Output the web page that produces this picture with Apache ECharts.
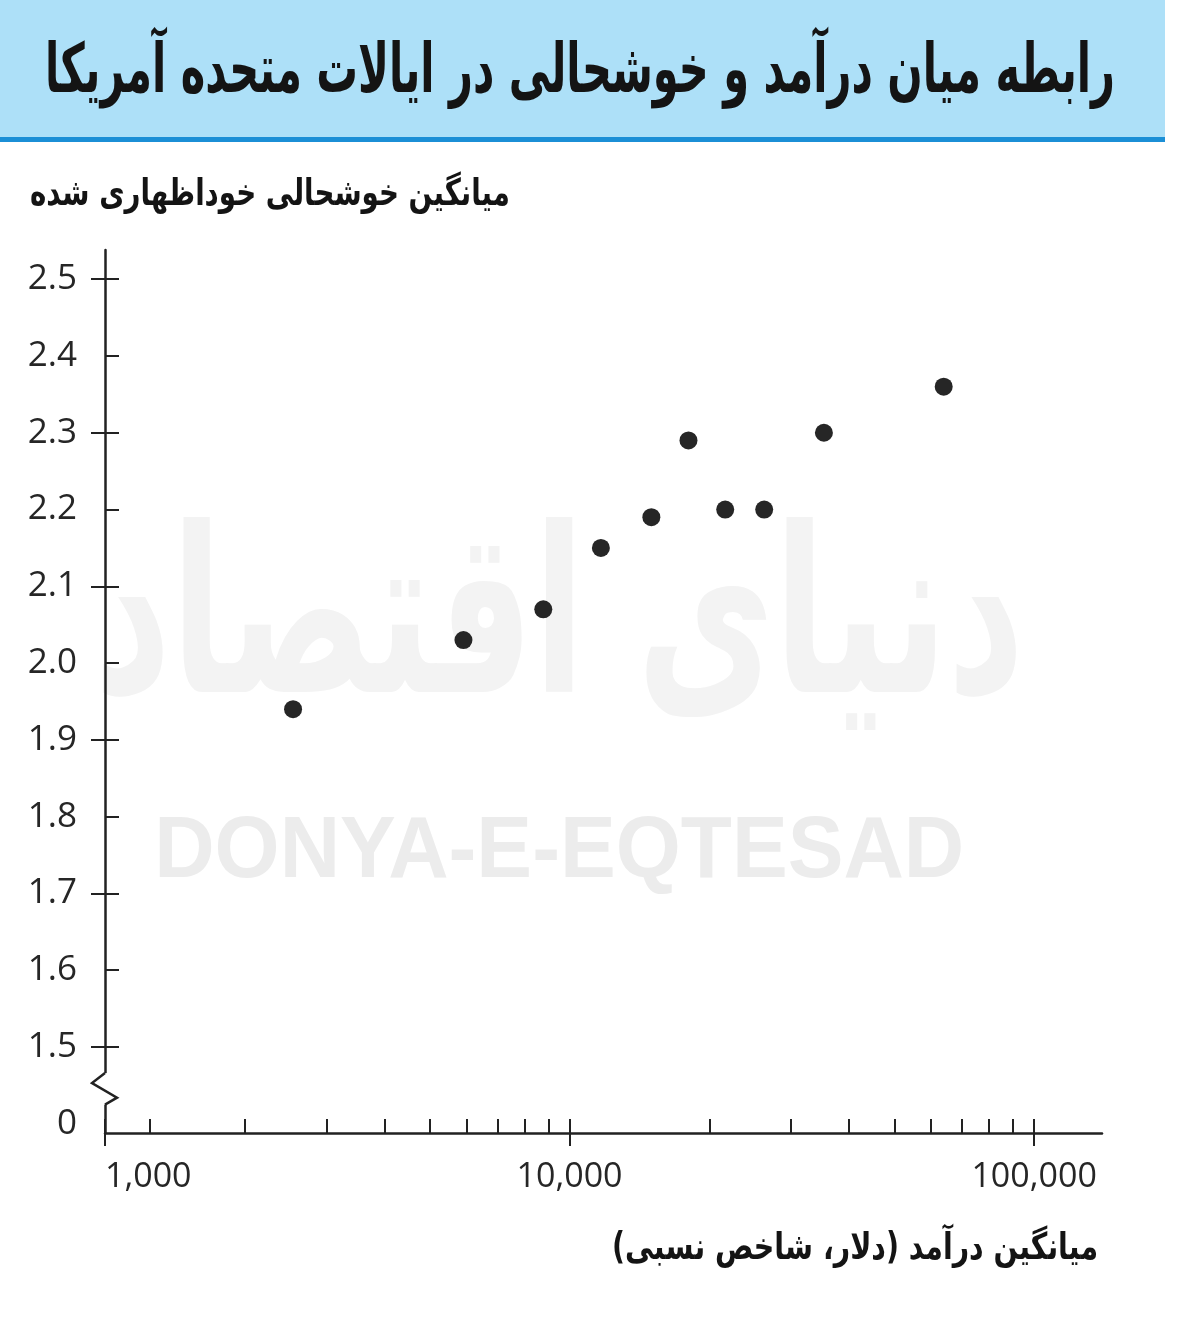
<!DOCTYPE html>
<html><head><meta charset="utf-8">
<script src="https://cdn.jsdelivr.net/npm/echarts@6/dist/echarts.min.js"></script>
<style>html,body{margin:0;padding:0;background:#fff}#c{width:1200px;height:1317px}</style>
</head><body><div id="c"></div>
<script>
// ---- text ----
const chartTitle = 'رابطه میان درآمد و خوشحالی در ایالات متحده آمریکا';
const yAxisTitle = 'میانگین خوشحالی خوداظهاری شده';
const xAxisTitle = 'میانگین درآمد (دلار، شاخص نسبی)';
const watermarkLatin = 'DONYA-E-EQTESAD';
const watermarkPersian = 'دنیای اقتصاد';

// ---- data ----
const income = [2540, 5910, 8780, 11680, 15000, 18030, 21630, 26240, 35280, 63880];
const happiness = [1.94, 2.03, 2.07, 2.15, 2.19, 2.29, 2.20, 2.20, 2.30, 2.36];

// ---- ticks ----
const xMajorTicks = [1000, 10000, 100000];
const xMajorLabels = ['1,000', '10,000', '100,000'];
const xMinorTicks = [1250, 2000, 3000, 4000, 5000, 6000, 7000, 8000, 9000,
  20000, 30000, 40000, 50000, 60000, 70000, 80000, 90000];
const yTicks = [1.5, 1.6, 1.7, 1.8, 1.9, 2.0, 2.1, 2.2, 2.3, 2.4, 2.5];
const yTickLabels = ['1.5', '1.6', '1.7', '1.8', '1.9', '2.0', '2.1', '2.2', '2.3', '2.4', '2.5'];
const yCrossTicks = [1.5, 1.7, 1.9, 2.1, 2.3, 2.5];
const yBreakValue = 1.4;      // position where the truncated axis shows "0"
const yBreakLabel = '0';

const rtl = s => '\u202B' + s + '\u202C';
const INK = '#222222';
const LABEL = '#262626';
const NUMFONT = '"Open Sans", "DejaVu Sans", sans-serif';
const FAFONT = '"DejaVu Sans", sans-serif';

const mctx = document.createElement('canvas').getContext('2d');
function fitScale(text, font, target) {
  mctx.font = font;
  return target / mctx.measureText(text).width;
}

const chart = echarts.init(document.getElementById('c'), null, {renderer: 'canvas'});

const yLabelValues = [yBreakValue].concat(yTicks);
function yLabelFor(v) {
  if (Math.abs(v - yBreakValue) < 1e-6) return yBreakLabel;
  for (let i = 0; i < yTicks.length; i++) if (Math.abs(v - yTicks[i]) < 1e-6) return yTickLabels[i];
  return '';
}
function xLabelFor(v) {
  for (let i = 0; i < xMajorTicks.length; i++) if (Math.abs(v - xMajorTicks[i]) < 1e-3) return xMajorLabels[i];
  return '';
}

const yMin = 1.388, yMax = 2.538;
const xMin = 1000, xMax = 140000;

const option = {
  backgroundColor: '#ffffff',
  animation: false,
  grid: {left: 105, right: 98, top: 250, bottom: 184, containLabel: false},
  xAxis: [
    {type: 'log', logBase: 10, min: xMin, max: xMax, position: 'bottom',
     axisLine: {show: true, lineStyle: {color: INK, width: 2.5}},
     axisTick: {show: true, inside: true, length: 14, customValues: xMajorTicks.concat(xMinorTicks),
                lineStyle: {color: INK, width: 2}},
     minorTick: {show: false},
     splitLine: {show: false},
     axisLabel: {show: true, customValues: xMajorTicks, formatter: v => xLabelFor(v),
                 fontFamily: NUMFONT, fontSize: 34, color: LABEL, margin: 27, alignMinLabel: 'left'}},
    {type: 'log', logBase: 10, min: xMin, max: xMax, position: 'bottom',
     axisLine: {show: false},
     axisTick: {show: true, inside: false, length: 13, customValues: xMajorTicks,
                lineStyle: {color: INK, width: 2}},
     splitLine: {show: false},
     axisLabel: {show: false}}
  ],
  yAxis: [
    {type: 'value', min: yMin, max: yMax, position: 'left',
     axisLine: {show: true, lineStyle: {color: INK, width: 2.5}},
     axisTick: {show: true, inside: false, length: 14, customValues: yCrossTicks,
                lineStyle: {color: INK, width: 2}},
     splitLine: {show: false},
     axisLabel: {show: true, customValues: yLabelValues, formatter: v => yLabelFor(v),
                 fontFamily: NUMFONT, fontSize: 35, color: LABEL, margin: 28}},
    {type: 'value', min: yMin, max: yMax, position: 'left',
     axisLine: {show: false},
     axisTick: {show: true, inside: true, length: 14, customValues: yTicks,
                lineStyle: {color: INK, width: 2}},
     splitLine: {show: false},
     axisLabel: {show: false}}
  ],
  series: [{
    type: 'scatter', xAxisIndex: 0, yAxisIndex: 0,
    data: income.map((v, i) => [v, happiness[i]]),
    symbol: 'circle', symbolSize: 18,
    itemStyle: {color: '#262626', opacity: 1}, z: 5
  }]
};
chart.setOption(option);

// decorations positioned from the axes
const x0 = chart.convertToPixel({xAxisIndex: 0}, xMin);
const yA = chart.convertToPixel({yAxisIndex: 0}, 1.466);
const yB = chart.convertToPixel({yAxisIndex: 0}, 1.453);
const yC = chart.convertToPixel({yAxisIndex: 0}, 1.434);
const yD = chart.convertToPixel({yAxisIndex: 0}, 1.425);
const wmY = chart.convertToPixel({yAxisIndex: 0}, 1.753);
const wmX = chart.convertToPixel({xAxisIndex: 0}, 9500);
const wpY = chart.convertToPixel({yAxisIndex: 0}, 2.04);

const titleFont = 'bold 68px "DejaVu Sans", sans-serif';
const axisTitleFont = 'bold 37px "DejaVu Sans", sans-serif';
const wmPFont = 'bold 230px "DejaVu Sans", sans-serif';
const wmLFont = 'bold 88px "Liberation Sans", Arial, sans-serif';
const sTitle = fitScale(chartTitle, titleFont, 1070);
const sYT = fitScale(yAxisTitle, axisTitleFont, 480);
const sXT = fitScale(xAxisTitle, axisTitleFont, 486);
const sWP = fitScale(watermarkPersian, wmPFont, 930);
const sWL = fitScale(watermarkLatin, wmLFont, 810);

chart.setOption({
  graphic: [
    {type: 'rect', z: -10, shape: {x: 0, y: 0, width: 1165, height: 137}, style: {fill: '#ade0f8'}},
    {type: 'rect', z: -10, shape: {x: 0, y: 137, width: 1165, height: 5}, style: {fill: '#1b8fd6'}},
    {type: 'text', z: 10, x: 1115, y: 74, scaleX: sTitle, style: {text: rtl(chartTitle), fill: '#141414',
      font: titleFont, textAlign: 'right', textVerticalAlign: 'middle'}},
    {type: 'text', z: 10, x: 510, y: 195, scaleX: sYT, style: {text: rtl(yAxisTitle), fill: '#141414',
      font: axisTitleFont, textAlign: 'right', textVerticalAlign: 'middle'}},
    {type: 'text', z: 10, x: 1098, y: 1249, scaleX: sXT, style: {text: rtl(xAxisTitle), fill: '#141414',
      font: axisTitleFont, textAlign: 'right', textVerticalAlign: 'middle'}},
    {type: 'text', z: -5, x: wmX, y: wpY, scaleX: sWP, style: {text: rtl(watermarkPersian), fill: '#f3f3f3',
      font: wmPFont, textAlign: 'center', textVerticalAlign: 'middle'}},
    {type: 'text', z: -5, x: wmX, y: wmY, scaleX: sWL, style: {text: watermarkLatin, fill: '#ececec',
      font: wmLFont, textAlign: 'center', textVerticalAlign: 'middle'}},
    {type: 'rect', z: 100, shape: {x: x0 - 4, y: yA, width: 8, height: yD - yA}, style: {fill: '#ffffff'}},
    {type: 'polyline', z: 101, shape: {points: [[x0, yA], [x0 - 13, yB], [x0 + 12, yC], [x0, yD]]},
      style: {stroke: INK, lineWidth: 2.5, fill: null}}
  ]
});
</script></body></html>
